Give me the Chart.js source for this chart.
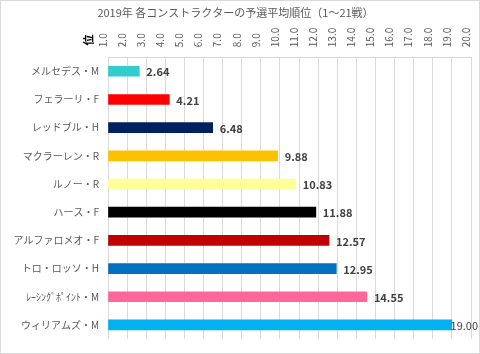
<!DOCTYPE html>
<html><head><meta charset="utf-8">
<script src="https://cdn.jsdelivr.net/npm/chart.js@4/dist/chart.umd.min.js"></script>
<style>html,body{margin:0;padding:0;background:#fff}#wrap{width:480px;height:354px;position:relative}</style>
</head><body><div id="wrap"><canvas id="c" width="480" height="354"></canvas></div>
<script>
const categories = ["メルセデス・M","フェラーリ・F","レッドブル・H","マクラーレン・R","ルノー・R","ハース・F","アルファロメオ・F","トロ・ロッソ・H","ﾚｰｼﾝｸﾞﾎﾟｲﾝﾄ・M","ウィリアムズ・M"];
const avgPosition = [2.64, 4.21, 6.48, 9.88, 10.83, 11.88, 12.57, 12.95, 14.55, 19.00];
const barColors = ["#33CCCC","#FF0000","#002060","#FFC000","#FFFF99","#000000","#C00000","#0070C0","#FF6699","#00B0F0"];
const titleText = "2019年 各コンストラクターの予選平均順位（1～21戦）";
const axisUnit = "位";
const FONT = "'Noto Sans CJK JP','Noto Sans',sans-serif";

const labelPlugin = {
  id: 'extras',
  afterDatasetsDraw(chart) {
    const ctx = chart.ctx;
    const meta = chart.getDatasetMeta(0);
    ctx.save();
    ctx.fillStyle = "#404040";
    ctx.textBaseline = "middle";
    ctx.textAlign = "left";
    meta.data.forEach((bar, i) => {
      const t = avgPosition[i].toFixed(2);
      ctx.font = "bold 11px " + FONT;
      let w = ctx.measureText(t).width;
      let x = bar.x + 7;
      if (x + w > chart.width - 2) {
        ctx.font = "11px " + FONT;
        w = ctx.measureText(t).width;
        x = Math.min(bar.x + 2, chart.width - 2 - w);
      }
      ctx.fillText(t, x, bar.y + 1);
    });
    const xs = chart.scales.x;
    ctx.translate(xs.left - 19, 40);
    ctx.rotate(-Math.PI / 2);
    ctx.font = "bold 11px " + FONT;
    ctx.fillStyle = "#000";
    ctx.textAlign = "center";
    ctx.fillText(axisUnit, 0, 0);
    ctx.restore();
    ctx.save();
    ctx.strokeStyle = "#d9d9d9";
    ctx.lineWidth = 1;
    ctx.strokeRect(0.5, 0.5, chart.width - 1, chart.height - 1);
    ctx.restore();
  }
};

new Chart(document.getElementById('c'), {
  type: 'bar',
  data: {
    labels: categories,
    datasets: [{
      data: avgPosition,
      backgroundColor: barColors,
      borderWidth: 0,
      barThickness: 10,
      base: 1
    }]
  },
  options: {
    indexAxis: 'y',
    responsive: false,
    animation: false,
    layout: { padding: { left: 0, right: 9, top: 0, bottom: 10 } },
    plugins: {
      legend: { display: false },
      tooltip: { enabled: false },
      title: {
        display: true,
        text: titleText,
        color: "#595959",
        font: { family: FONT, size: 11, weight: 'normal' },
        padding: { top: 6, bottom: 6 }
      }
    },
    scales: {
      x: {
        position: 'top',
        min: 1, max: 20,
        ticks: {
          stepSize: 1,
          color: "#595959",
          font: { family: FONT, size: 10 },
          minRotation: 90, maxRotation: 90,
          padding: 10,
          labelOffset: 7,
          callback: v => Number(v).toFixed(1)
        },
        grid: { color: "#d9d9d9", drawTicks: false },
        border: { display: true, color: "#d9d9d9" },
        afterFit(s) { s.height = 32; s.paddingLeft = 0; s.paddingRight = 0; }
      },
      y: {
        ticks: {
          color: "#595959",
          font: { family: FONT, size: 10 },
          padding: 9
        },
        grid: { display: false, drawTicks: false },
        border: { display: false },
        afterFit(s) { s.width = 108; }
      }
    }
  },
  plugins: [labelPlugin]
});
</script></body></html>
